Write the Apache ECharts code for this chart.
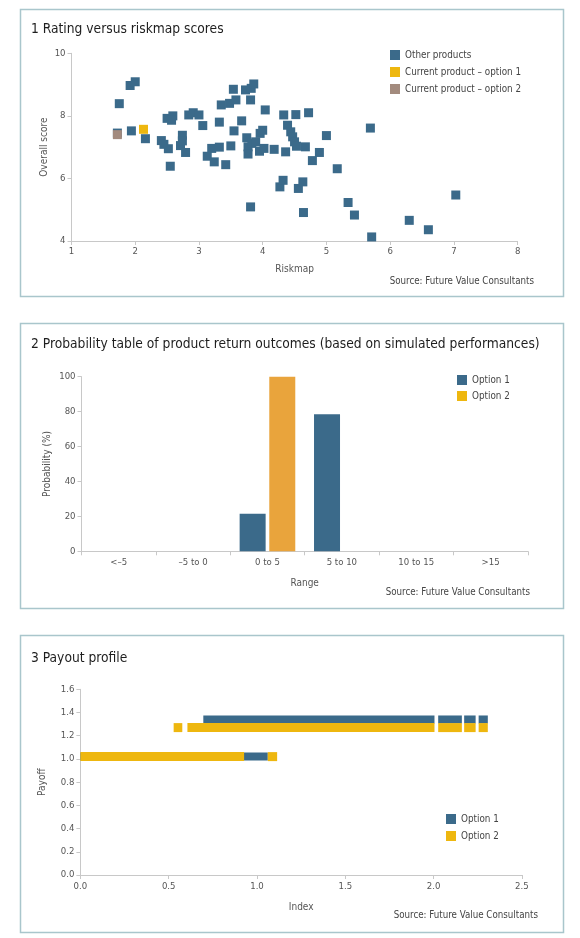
<!DOCTYPE html>
<html><head><meta charset="utf-8">
<script src="https://cdn.jsdelivr.net/npm/echarts@6/dist/echarts.min.js"></script>
<style>html,body{margin:0;padding:0;background:#fff}#c{width:580px;height:938px}</style>
</head><body><div id="c"></div>
<script>
// ---------- Panel 1 data: Rating versus riskmap scores ----------
const otherRiskmap = [1.75,1.92,2.00,1.94,1.72,2.16,2.41,2.45,2.52,2.55,2.50,2.59,2.57,2.71,2.74,2.74,2.79,2.84,2.91,3.00,3.06,3.13,3.20,3.24,3.32,3.32,3.35,3.42,3.48,3.50,3.54,3.55,3.58,3.67,3.73,3.75,3.77,3.77,3.81,3.81,3.82,3.86,3.83,3.89,3.95,3.96,4.00,4.02,4.04,4.18,4.27,4.32,4.33,4.36,4.39,4.44,4.47,4.50,4.52,4.53,4.56,4.64,4.63,4.67,4.72,4.78,4.89,5.00,5.17,5.34,5.44,5.69,5.71,6.30,6.60,7.03];
const otherScore   = [8.39,8.97,9.09,7.52,7.45,7.27,7.21,7.09,6.95,6.39,7.92,8.00,7.86,7.05,7.38,7.20,6.83,8.03,8.10,8.03,7.69,6.71,6.96,6.53,7.00,7.80,8.35,6.44,8.40,7.04,8.85,7.52,8.51,7.84,8.83,7.30,7.01,6.78,8.51,5.09,8.88,9.02,7.12,7.17,6.87,7.44,7.54,6.96,8.19,6.93,5.73,5.94,8.03,6.85,7.70,7.49,7.33,7.17,8.04,7.03,5.68,4.91,5.89,7.01,8.10,6.57,6.83,7.37,6.31,5.23,4.83,7.61,4.13,4.66,4.36,5.47];
const currentOpt1 = [2.13, 7.57];
const currentOpt2 = [1.72, 7.40];

// ---------- Panel 2 data: Probability table ----------
const rangeCategories = ['<\u20135', '\u20135 to 0', '0 to 5', '5 to 10', '10 to 15', '>15'];
const probOption1 = [0, 0, 21.5, 78.5, 0, 0];
const probOption2 = [0, 0, 100, 0, 0, 0];

// ---------- Panel 3 data: Payout profile (segments: start index, end index, payoff) ----------
const opt1SegStart  = [0.000, 0.696, 2.026, 2.173, 2.255];
const opt1SegEnd    = [1.061, 2.005, 2.160, 2.238, 2.307];
const opt1SegPayoff = [1.02, 1.34, 1.34, 1.34, 1.34];
const opt2SegStart  = [0.000, 1.061, 0.528, 0.606, 2.026, 2.173, 2.255];
const opt2SegEnd    = [0.927, 1.114, 0.577, 2.005, 2.160, 2.238, 2.307];
const opt2SegPayoff = [1.02, 1.02, 1.27, 1.27, 1.27, 1.27, 1.27];

const FONT = "'Liberation Sans Narrow', 'DejaVu Sans Condensed', 'Roboto Condensed', 'Liberation Sans', sans-serif";
const BLUE = '#3b6a8a', GOLD = '#eeb70f', ORANGE = '#e9a43c', BROWN = '#a38b7e';
const AXIS = '#c8c8c8', LABEL = '#555', BORDER = '#a9c6cc';

function axisCommon(extra) {
  return Object.assign({
    axisLine: { show: true, lineStyle: { color: AXIS, width: 1 } },
    axisTick: { show: true, length: 4, lineStyle: { color: AXIS } },
    axisLabel: { color: LABEL, fontFamily: FONT, fontSize: 9.5, margin: 6 },
    splitLine: { show: false },
    nameLocation: 'middle',
    nameMoveOverlap: false,
    nameTextStyle: { color: LABEL, fontFamily: FONT, fontSize: 10 }
  }, extra);
}

const segRender = (thick) => function (params, api) {
  const s = api.coord([api.value(0), api.value(2)]);
  const e = api.coord([api.value(1), api.value(2)]);
  return { type: 'rect', shape: { x: s[0], y: s[1] - thick / 2, width: e[0] - s[0], height: thick },
           style: { fill: api.visual('color') } };
};

const chart = echarts.init(document.getElementById('c'), null, { renderer: 'canvas' });
const titleStyle = { color: '#1e1e1e', fontFamily: FONT, fontSize: 13.7, fontWeight: 'normal' };
const legendText = { color: '#444', fontFamily: FONT, fontSize: 9.8 };
const SRC_FONT = '9.7px ' + FONT;

chart.setOption({
  animation: false,
  backgroundColor: '#fff',
  graphic: [
    { type: 'rect', shape: { x: 20.5, y: 9.5, width: 543, height: 287 }, style: { fill: 'none', stroke: BORDER, lineWidth: 1.5 } },
    { type: 'rect', shape: { x: 20.5, y: 323.5, width: 543, height: 285 }, style: { fill: 'none', stroke: BORDER, lineWidth: 1.5 } },
    { type: 'rect', shape: { x: 20.5, y: 635.5, width: 543, height: 297 }, style: { fill: 'none', stroke: BORDER, lineWidth: 1.5 } },
    { type: 'text', right: 46, top: 276, style: { text: 'Source: Future Value Consultants', fill: '#444', font: SRC_FONT } },
    { type: 'text', right: 50, top: 587, style: { text: 'Source: Future Value Consultants', fill: '#444', font: SRC_FONT } },
    { type: 'text', right: 42, top: 910, style: { text: 'Source: Future Value Consultants', fill: '#444', font: SRC_FONT } }
  ],
  title: [
    { text: '1 Rating versus riskmap scores', left: 31, top: 22, padding: 0, textStyle: titleStyle },
    { text: '2 Probability table of product return outcomes (based on simulated performances)', left: 31, top: 337, padding: 0, textStyle: titleStyle },
    { text: '3 Payout profile', left: 31, top: 651, padding: 0, textStyle: titleStyle }
  ],
  legend: [
    { orient: 'vertical', left: 390, top: 50, itemWidth: 10, itemHeight: 10, itemGap: 7, icon: 'rect', textStyle: legendText, padding: 0,
      data: ['Other products', 'Current product \u2013 option 1', 'Current product \u2013 option 2'] },
    { orient: 'vertical', left: 457, top: 375, itemWidth: 10, itemHeight: 10, itemGap: 6, icon: 'rect', textStyle: legendText, padding: 0,
      data: ['Option 1', 'Option 2'] },
    { orient: 'vertical', left: 446, top: 814, itemWidth: 10, itemHeight: 10, itemGap: 7, icon: 'rect', textStyle: legendText, padding: 0,
      data: ['Option 1 ', 'Option 2 '] }
  ],
  grid: [
    { left: 71.5, right: 62.4, top: 53.3, height: 187.7 },
    { left: 81.5, right: 52.2, top: 376.7, height: 174.6 },
    { left: 80.4, right: 58.1, top: 689.3, height: 185.7 }
  ],
  xAxis: [
    axisCommon({ gridIndex: 0, type: 'value', min: 1, max: 8, interval: 1, name: 'Riskmap', nameGap: 23 }),
    axisCommon({ gridIndex: 1, type: 'category', data: rangeCategories, name: 'Range', nameGap: 27 }),
    axisCommon({ gridIndex: 2, type: 'value', min: 0, max: 2.5, interval: 0.5, name: 'Index', nameGap: 27,
                 axisLabel: { color: LABEL, fontFamily: FONT, fontSize: 9.5, margin: 7, formatter: v => v.toFixed(1) } })
  ],
  yAxis: [
    axisCommon({ gridIndex: 0, type: 'value', min: 4, max: 10, interval: 2, name: 'Overall score', nameGap: 22 }),
    axisCommon({ gridIndex: 1, type: 'value', min: 0, max: 100, interval: 20, name: 'Probability (%)', nameGap: 29 }),
    axisCommon({ gridIndex: 2, type: 'value', min: 0, max: 1.6, interval: 0.2, name: 'Payoff', nameGap: 33,
                 axisLabel: { color: LABEL, fontFamily: FONT, fontSize: 9.5, margin: 6, formatter: v => v.toFixed(1) } })
  ],
  series: [
    { name: 'Other products', type: 'scatter', xAxisIndex: 0, yAxisIndex: 0, symbol: 'rect', symbolSize: 9,
      itemStyle: { color: BLUE, opacity: 1 }, data: otherRiskmap.map((x, i) => [x, otherScore[i]]) },
    { name: 'Current product \u2013 option 1', type: 'scatter', xAxisIndex: 0, yAxisIndex: 0, symbol: 'rect', symbolSize: 9,
      itemStyle: { color: GOLD, opacity: 1 }, data: [currentOpt1] },
    { name: 'Current product \u2013 option 2', type: 'scatter', xAxisIndex: 0, yAxisIndex: 0, symbol: 'rect', symbolSize: 9,
      itemStyle: { color: BROWN, opacity: 1 }, data: [currentOpt2] },

    { name: 'Option 1', type: 'bar', xAxisIndex: 1, yAxisIndex: 1, barWidth: 26, barGap: '14%',
      itemStyle: { color: BLUE }, data: probOption1 },
    { name: 'Option 2', type: 'bar', xAxisIndex: 1, yAxisIndex: 1, barWidth: 26, barGap: '14%',
      itemStyle: { color: GOLD }, data: probOption2.map(v => ({ value: v, itemStyle: { color: ORANGE } })) },

    { name: 'Option 1 ', type: 'custom', xAxisIndex: 2, yAxisIndex: 2, renderItem: segRender(8),
      itemStyle: { color: BLUE }, encode: { x: [0, 1], y: 2 },
      data: opt1SegStart.map((s, i) => [s, opt1SegEnd[i], opt1SegPayoff[i]]) },
    { name: 'Option 2 ', type: 'custom', xAxisIndex: 2, yAxisIndex: 2, renderItem: segRender(9),
      itemStyle: { color: GOLD }, encode: { x: [0, 1], y: 2 },
      data: opt2SegStart.map((s, i) => [s, opt2SegEnd[i], opt2SegPayoff[i]]) }
  ]
});
</script>
</body></html>
